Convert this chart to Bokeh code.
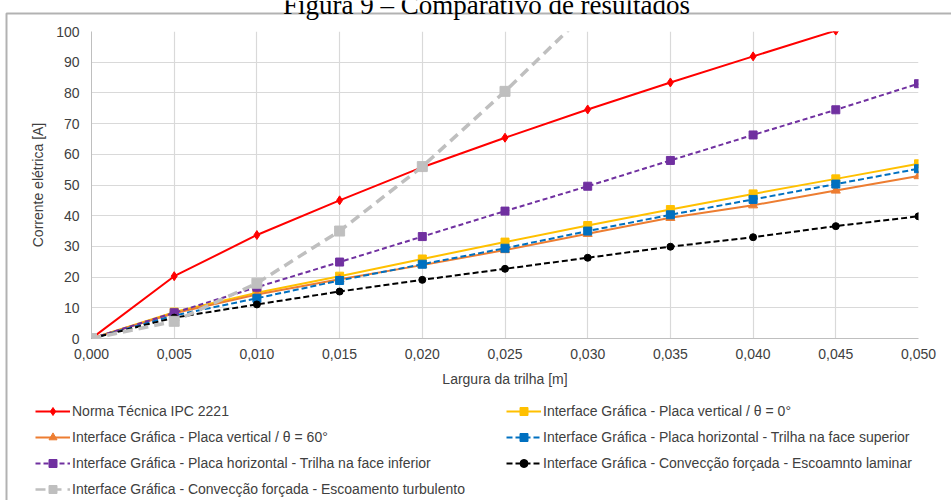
from bokeh.plotting import figure
from bokeh.models import (FixedTicker, CustomJSTickFormatter, Legend, LegendItem,
                          Label, BoxAnnotation, Range1d)
from bokeh.embed import file_html
from bokeh.resources import INLINE

# ---------------- data ----------------
largura = [0.000, 0.005, 0.010, 0.015, 0.020, 0.025, 0.030, 0.035, 0.040, 0.045, 0.050]
ipc_2221 = [0.0, 20.3, 33.7, 45.0, 55.8, 65.4, 74.6, 83.4, 91.9, 100.3, 108.0]
vertical_0 = [0.0, 8.6, 14.9, 20.3, 25.9, 31.4, 36.8, 42.0, 47.1, 52.0, 56.9]
vertical_60 = [0.0, 8.2, 14.3, 19.3, 23.9, 28.8, 34.1, 39.3, 43.4, 48.2, 52.9]
horiz_sup = [0.0, 7.5, 13.1, 18.9, 24.2, 29.4, 35.0, 40.3, 45.3, 50.3, 55.3]
horiz_inf = [0.0, 8.4, 16.7, 24.9, 33.2, 41.5, 49.6, 58.0, 66.3, 74.5, 83.0]
laminar = [0.0, 6.8, 11.1, 15.3, 19.1, 22.7, 26.3, 29.9, 33.0, 36.6, 39.8]
turb_x = [0.000, 0.005, 0.010, 0.015, 0.020, 0.025, 0.030]
turbulento = [0.0, 5.6, 18.0, 35.0, 56.0, 80.5, 106.6]

x_ticks = largura
y_ticks = [0, 10, 20, 30, 40, 50, 60, 70, 80, 90, 100]

labels = [
    "Norma Técnica IPC 2221",
    "Interface Gráfica - Placa vertical / θ = 0°",
    "Interface Gráfica - Placa vertical / θ = 60°",
    "Interface Gráfica - Placa horizontal - Trilha na face superior",
    "Interface Gráfica - Placa horizontal - Trilha na face inferior",
    "Interface Gráfica - Convecção forçada - Escoamnto laminar",
    "Interface Gráfica - Convecção forçada - Escoamento turbulento",
]
title_text = "Figura 9 – Comparativo de resultados"

FONT = "Liberation Sans"
TXT = "#404040"

# colour, dash, line width, marker, marker size, legend marker size
styles = [
    ("#FF0000", "solid", 2, "diamond", 9, 7),
    ("#FFC000", "solid", 2, "square", 8, 6),
    ("#ED7D31", "solid", 2, "triangle", 9, 7),
    ("#0070C0", "6 3", 2, "square", 8, 6),
    ("#7030A0", "5 3", 2, "square", 8, 6),
    ("#000000", "6 3", 2, "circle", 7, 6),
    ("#BFBFBF", "10 6", 3.5, "square", 10, 8),
]
series_x = [largura] * 6 + [turb_x]
series_y = [ipc_2221, vertical_0, vertical_60, horiz_sup, horiz_inf, laminar, turbulento]

# ---------------- background page: title, frame, legend ----------------
bg = figure(width=951, height=500, output_backend="svg", toolbar_location=None,
            x_range=Range1d(0, 951), y_range=Range1d(500, 0),
            x_axis_type=None, y_axis_type=None,
            min_border=0, min_border_left=0, min_border_right=0,
            min_border_top=0, min_border_bottom=0)
bg.styles = {"position": "absolute", "left": "0px", "top": "0px"}
bg.outline_line_color = None
bg.grid.visible = False
bg.background_fill_color = "white"
bg.border_fill_color = "white"
# range that puts the legend's own renderers out of sight
bg.extra_x_ranges = {"off": Range1d(1, 2)}

bg.add_layout(Label(x=486, y=4, text=title_text,
                    text_font="Liberation Serif", text_font_size="27px",
                    text_align="center", text_baseline="alphabetic", text_color="black"))
bg.add_layout(BoxAnnotation(left=6, top=13, right=2000, bottom=2000,
                            fill_alpha=0, line_color="black", line_width=2))

items = []
for xs, ys, (col, dash, lw, mk, sz, lsz), lab in zip(series_x, series_y, styles, labels):
    lr = bg.line(xs, ys, line_color=col, line_width=min(lw, 2.5), line_dash=dash,
                 x_range_name="off")
    sr = bg.scatter(xs, ys, marker=mk, size=lsz, fill_color=col, line_color=col,
                    x_range_name="off")
    items.append(LegendItem(label=lab, renderers=[lr, sr]))

def make_legend(its, loc):
    lg = Legend(items=its, location=loc)
    lg.label_text_font = FONT
    lg.label_text_font_size = "14px"
    lg.label_text_color = TXT
    lg.glyph_width = 35
    lg.glyph_height = 20
    lg.label_height = 20
    lg.spacing = 6
    lg.padding = 0
    lg.margin = 0
    lg.label_standoff = 2
    lg.border_line_color = None
    lg.background_fill_alpha = 0
    return lg

bg.add_layout(make_legend([items[0], items[2], items[4], items[6]], (35, 1)))
bg.add_layout(make_legend([items[1], items[3], items[5]], (506, 27)))

# ---------------- chart ----------------
p = figure(width=951, height=500, output_backend="svg", toolbar_location=None,
           x_range=Range1d(0, 0.05), y_range=Range1d(0, 100),
           min_border_left=91, min_border_right=33, min_border_top=31,
           min_border_bottom=162)
p.styles = {"position": "absolute", "left": "0px", "top": "0px"}
p.outline_line_color = None
p.background_fill_color = None
p.border_fill_color = None

p.xaxis.ticker = FixedTicker(ticks=x_ticks)
p.yaxis.ticker = FixedTicker(ticks=y_ticks)
p.xgrid.ticker = FixedTicker(ticks=x_ticks)
p.ygrid.ticker = FixedTicker(ticks=y_ticks)
p.xaxis.formatter = CustomJSTickFormatter(code="return tick.toFixed(3).replace('.', ',');")
p.xaxis.axis_label = "Largura da trilha [m]"
p.yaxis.axis_label = "Corrente elétrica [A]"
for ax in (p.xaxis, p.yaxis):
    ax.axis_line_color = "#BFBFBF"
    ax.axis_line_width = 1
    ax.major_tick_line_color = None
    ax.minor_tick_line_color = None
    ax.major_tick_out = 0
    ax.major_tick_in = 0
    ax.major_label_text_font = FONT
    ax.major_label_text_font_size = "14px"
    ax.major_label_text_color = TXT
    ax.axis_label_text_font = FONT
    ax.axis_label_text_font_size = "14px"
    ax.axis_label_text_font_style = "normal"
    ax.axis_label_text_color = TXT
p.xaxis.major_label_standoff = 10
p.xaxis.axis_label_standoff = 9
p.yaxis.major_label_standoff = 12
p.yaxis.axis_label_standoff = 7
p.xgrid.grid_line_color = "#D9D9D9"
p.ygrid.grid_line_color = "#D9D9D9"
p.xgrid.grid_line_width = 1.2
p.ygrid.grid_line_width = 1.2

for xs, ys, (col, dash, lw, mk, sz, lsz) in zip(series_x, series_y, styles):
    p.line(xs, ys, line_color=col, line_width=lw, line_dash=dash)
    p.scatter(xs, ys, marker=mk, size=sz, fill_color=col, line_color=col)

open("out.html", "w").write(file_html([bg, p], INLINE))
